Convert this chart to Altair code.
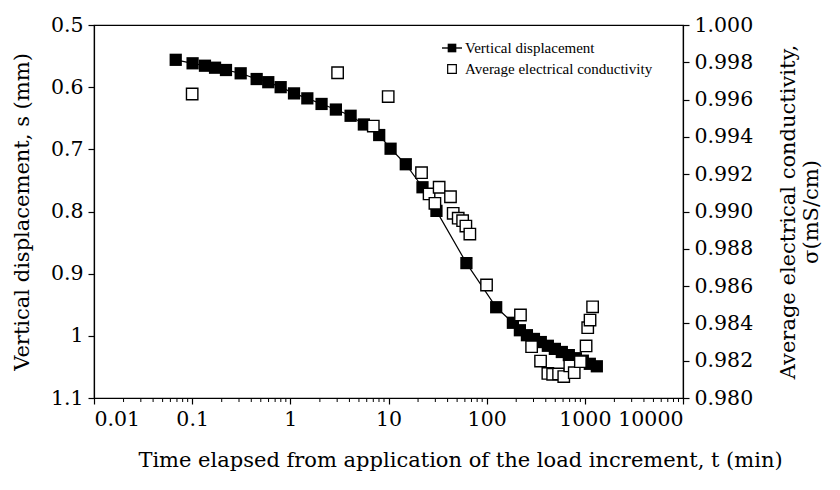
import altair as alt
import pandas as pd

# Vertical displacement (filled squares, left axis)
vd_t = [0.068, 0.101, 0.135, 0.171, 0.221, 0.312, 0.454, 0.596, 0.797, 1.09,
        1.49, 2.08, 2.91, 4.11, 5.61, 8.04, 10.5, 15.0, 22.2, 30.8,
        62.2, 125, 185, 218, 257, 303, 356, 420, 495, 583,
        687, 810, 954, 1124, 1325]
vd_s = [0.556, 0.5616, 0.5655, 0.5687, 0.5724, 0.5777, 0.5869, 0.592, 0.600, 0.610,
        0.618, 0.627, 0.636, 0.646, 0.660, 0.677, 0.699, 0.724, 0.761, 0.799,
        0.883, 0.954, 0.979, 0.991, 0.999, 1.005, 1.010, 1.016, 1.021, 1.026,
        1.031, 1.036, 1.040, 1.045, 1.049]

# Average electrical conductivity (open squares, right axis)
ec_t = [0.100, 3.03, 7.0, 9.93, 21.7, 25.9, 29.7, 32.8, 42.8, 45.6,
        51.3, 56.9, 61.4, 67.4, 99.7, 221, 287, 354, 420, 470,
        540, 610, 703, 780, 900, 1030, 1070, 1130, 1200]
ec_s = [0.9963, 0.99744, 0.99458, 0.99616, 0.99208, 0.99094, 0.99044, 0.99130, 0.99079, 0.98990,
        0.98964, 0.98951, 0.98922, 0.98879, 0.98606, 0.98445, 0.98275, 0.98198, 0.98132, 0.98127,
        0.98129, 0.98115, 0.98172, 0.98136, 0.98195, 0.98279, 0.98377, 0.98418, 0.98489]

x_ticks = [0.01, 0.1, 1, 10, 100, 1000, 10000]
minor_ticks = [m * d for d in [0.01, 0.1, 1, 10, 100, 1000] for m in range(2, 10)]
left_ticks = [0.5, 0.6, 0.7, 0.8, 0.9, 1.0, 1.1]
right_ticks = [0.980, 0.982, 0.984, 0.986, 0.988, 0.990, 0.992, 0.994, 0.996, 0.998, 1.000]
legend_labels = ["Vertical displacement", "Average electrical conductivity"]

W, H = 589, 373
FONT = "DejaVu Serif"

vd = pd.DataFrame({"t": vd_t, "s": vd_s})
ec = pd.DataFrame({"t": ec_t, "c": ec_s})
mt = pd.DataFrame({"t": minor_ticks})

xscale = alt.Scale(type="log", domain=[0.01, 10000])
xaxis = alt.Axis(values=x_ticks, format="~g", title="Time elapsed from application of the load increment, t (min)",
                 titleX=366, titlePadding=20, labelPadding=5, tickSize=6, grid=False)

x_enc = alt.X("t:Q", scale=xscale, axis=xaxis)

left_y = alt.Y("s:Q", scale=alt.Scale(domain=[0.5, 1.1], reverse=True, nice=False, zero=False),
               axis=alt.Axis(values=left_ticks, format="~g", title="Vertical displacement, s (mm)",
                             titlePadding=18, labelPadding=5, tickSize=6, grid=False))

vd_line = alt.Chart(vd).mark_line(color="black", strokeWidth=1.2).encode(x=x_enc, y=left_y)
vd_pts = alt.Chart(vd).mark_square(size=150, color="black", opacity=1).encode(x=x_enc, y=left_y)

right_y = alt.Y("c:Q", scale=alt.Scale(domain=[0.98, 1.0], nice=False, zero=False),
                axis=alt.Axis(values=right_ticks, format=".3f", orient="right",
                              title=["Average electrical conductivity,", "σ(mS/cm)"],
                              titleAngle=270, titlePadding=23, labelPadding=5, tickSize=6, grid=False))
ec_pts = alt.Chart(ec).mark_square(size=130, filled=True, fill="white", stroke="black",
                                   strokeWidth=1.4, opacity=1).encode(x=x_enc, y=right_y)

minor = alt.Chart(mt).mark_rule(color="black", strokeWidth=1).encode(
    x=x_enc, y=alt.value(H), y2=alt.value(H + 4))

leg = pd.DataFrame({"label": legend_labels, "row": [0, 1]})
leg_line = alt.Chart(leg[leg.row == 0]).mark_rule(color="black", strokeWidth=1.4).encode(
    x=alt.value(348), x2=alt.value(368), y=alt.value(23))
leg_sq1 = alt.Chart(leg[leg.row == 0]).mark_square(size=75, color="black", opacity=1).encode(
    x=alt.value(358), y=alt.value(23))
leg_sq2 = alt.Chart(leg[leg.row == 1]).mark_square(size=75, filled=True, fill="white", stroke="black",
                                                 strokeWidth=1.2, opacity=1).encode(
    x=alt.value(358), y=alt.value(44))
leg_txt = alt.Chart(leg).mark_text(align="left", baseline="middle", font="Liberation Serif",
                                   fontSize=15, color="black").encode(
    x=alt.value(371),
    y=alt.Y("row:Q", scale=alt.Scale(domain=[0, 1], range=[23, 44]), axis=None),
    text="label:N")

left_layer = alt.layer(vd_line, vd_pts, minor)
chart = alt.layer(left_layer, ec_pts, alt.layer(leg_line, leg_sq1, leg_sq2, leg_txt)).resolve_scale(
    y="independent").properties(
    width=W, height=H,
    autosize=alt.AutoSizeParams(type="none"),
    padding={"left": 86, "top": 17, "right": 145, "bottom": 80},
).configure_view(stroke="black", strokeWidth=1.2).configure_axis(
    labelFont=FONT, titleFont=FONT, labelFontSize=20.5, titleFontSize=21,
    titleFontWeight="normal", labelColor="black", titleColor="black",
    domainColor="black", tickColor="black", domainWidth=1.2, tickWidth=1.2,
)

chart.save("out.html", embed_options={"renderer": "svg", "actions": False})
